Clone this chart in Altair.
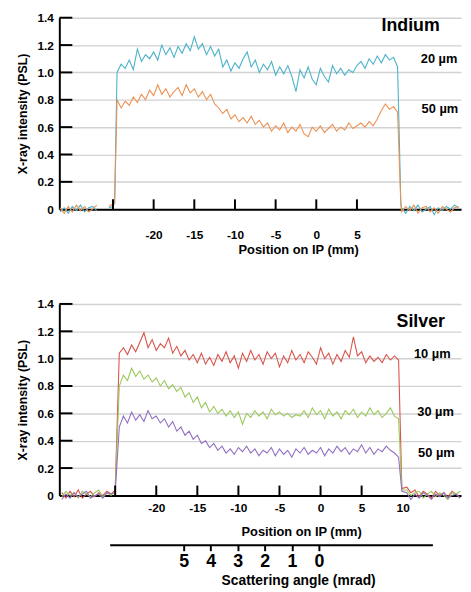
import altair as alt
import pandas as pd

FONT = "Liberation Sans"

# ---------------- data ----------------
SERIES_KEYS = ["In 20", "In 50", "Ag 10", "Ag 30", "Ag 50", "tick"]
SERIES_COLORS = ["#4bb2c9", "#ec9152", "#d9544c", "#9cc95c", "#9170c2", "#000000"]

# Top panel (Indium)
TOP_LEFT_POS = [-31.5, -31.0, -30.5, -30.0, -29.5, -29.0, -28.5, -28.0, -27.5, -27.0, -25.5, -25.0]
TOP_LEFT_SEG = [0, 0, 0, 0, 0, 0, 0, 0, 0, 0, 1, 1]
TOP_RISE_POS = -24.8
TOP_PLAT_POS = [-24.5 + 0.5 * i for i in range(70)]
TOP_FALL_POS = 10.4
TOP_RIGHT_POS = [10.5 + 0.5 * i for i in range(15)]

IN20_PLAT = [1.00, 1.06, 1.03, 1.09, 1.02, 1.17, 1.08, 1.13, 1.10, 1.15,
             1.09, 1.20, 1.13, 1.18, 1.11, 1.19, 1.14, 1.21, 1.16, 1.26,
             1.17, 1.21, 1.13, 1.19, 1.12, 1.17, 1.04, 1.09, 1.01, 1.07,
             1.03, 1.10, 1.15, 1.04, 1.09, 1.00, 1.06, 1.02, 1.08, 0.98,
             1.04, 0.99, 1.05, 0.97, 0.86, 1.02, 0.96, 1.04, 0.95, 0.91,
             1.03, 0.97, 0.93, 1.05, 0.99, 1.03, 0.98, 1.02, 1.00, 1.05,
             1.08, 1.03, 1.10, 1.06, 1.12, 1.07, 1.13, 1.09, 1.11, 1.04]
IN50_PLAT = [0.80, 0.74, 0.79, 0.76, 0.82, 0.78, 0.84, 0.80, 0.87, 0.83,
             0.91, 0.84, 0.88, 0.82, 0.86, 0.89, 0.83, 0.91, 0.85, 0.88,
             0.82, 0.86, 0.80, 0.84, 0.77, 0.74, 0.70, 0.73, 0.66, 0.69,
             0.64, 0.67, 0.63, 0.68, 0.62, 0.65, 0.60, 0.63, 0.57, 0.61,
             0.58, 0.63, 0.56, 0.60, 0.57, 0.62, 0.55, 0.53, 0.60, 0.57,
             0.61, 0.56, 0.59, 0.62, 0.57, 0.60, 0.58, 0.63, 0.59, 0.61,
             0.63, 0.60, 0.64, 0.61, 0.66, 0.72, 0.77, 0.73, 0.75, 0.71]
IN20_BASE_L = [-0.02, 0.01, -0.03, 0.02, -0.01, 0.03, -0.02, 0.01, 0.02, -0.01, 0.01, 0.02]
IN20_BASE_R = [0.01, -0.03, 0.02, -0.01, 0.03, -0.02, 0.00, 0.02, -0.04, 0.01, -0.01, 0.02, 0.00, 0.03, 0.01]
IN50_BASE_L = [0.01, -0.03, 0.02, -0.02, 0.03, -0.01, 0.02, -0.02, 0.00, 0.03, 0.02, 0.04]
IN50_BASE_R = [-0.02, 0.02, -0.01, 0.03, -0.03, 0.01, 0.02, -0.02, 0.01, -0.03, 0.02, 0.00, -0.02, 0.01, 0.02]
IN_RISE = [0.05, 0.04]
IN_FALL = [0.04, 0.03]

# Bottom panel (Silver)
BOT_LEFT_POS = [-31.5 + 0.5 * i for i in range(13)]
BOT_RISE_POS = -25.0
BOT_PLAT_POS = [-24.5 + 0.5 * i for i in range(69)]
BOT_FALL_POS = 9.9
BOT_RIGHT_POS = [10.5 + 0.5 * i for i in range(14)]

AG10_PLAT = [1.04, 1.08, 1.03, 1.10, 1.05, 1.12, 1.19, 1.08, 1.14, 1.06,
             1.11, 1.08, 1.15, 1.04, 1.09, 1.02, 1.06, 0.99, 1.03, 0.97,
             1.04, 0.96, 1.01, 0.95, 1.03, 0.98, 1.05, 0.97, 1.02, 0.93,
             1.04, 0.98, 1.06, 0.99, 1.03, 0.96, 1.05, 1.00, 1.04, 0.94,
             1.02, 0.97, 1.06, 0.99, 1.03, 0.97, 1.05, 1.01, 0.96, 1.08,
             1.00, 1.04, 0.96, 1.03, 0.98, 1.06, 1.01, 1.16, 1.02, 1.05,
             0.97, 1.02, 0.98, 1.01, 0.97, 1.03, 0.99, 1.02, 0.99]
AG30_PLAT = [0.80, 0.88, 0.84, 0.93, 0.87, 0.91, 0.85, 0.88, 0.83, 0.86,
             0.80, 0.84, 0.78, 0.81, 0.76, 0.79, 0.72, 0.75, 0.68, 0.72,
             0.64, 0.68, 0.61, 0.65, 0.60, 0.63, 0.58, 0.62, 0.57, 0.61,
             0.52, 0.60, 0.57, 0.62, 0.58, 0.61, 0.56, 0.63, 0.59, 0.61,
             0.58, 0.60, 0.57, 0.59, 0.58, 0.62, 0.57, 0.64, 0.59, 0.62,
             0.56, 0.63, 0.58, 0.61, 0.56, 0.62, 0.59, 0.63, 0.57, 0.61,
             0.58, 0.64, 0.59, 0.62, 0.57, 0.60, 0.64, 0.58, 0.56]
AG50_PLAT = [0.50, 0.58, 0.53, 0.61, 0.55, 0.59, 0.54, 0.62, 0.56, 0.58,
             0.53, 0.56, 0.50, 0.54, 0.47, 0.50, 0.44, 0.47, 0.41, 0.44,
             0.38, 0.40, 0.35, 0.38, 0.33, 0.36, 0.31, 0.34, 0.30, 0.35,
             0.32, 0.36, 0.31, 0.34, 0.29, 0.33, 0.31, 0.35, 0.29, 0.34,
             0.30, 0.33, 0.28, 0.34, 0.31, 0.35, 0.30, 0.33, 0.31, 0.35,
             0.29, 0.34, 0.31, 0.36, 0.32, 0.35, 0.30, 0.34, 0.32, 0.37,
             0.31, 0.35, 0.30, 0.34, 0.32, 0.36, 0.33, 0.31, 0.28]
AG10_BASE_L = [0.02, -0.02, 0.03, -0.01, 0.04, -0.02, 0.01, 0.03, -0.01, 0.02, 0.00, 0.03, 0.01]
AG10_BASE_R = [0.06, 0.02, 0.04, -0.01, 0.03, 0.01, -0.02, 0.03, 0.00, 0.02, -0.01, 0.03, 0.01, -0.02]
AG30_BASE_L = [-0.01, 0.03, 0.00, 0.02, -0.02, 0.03, 0.01, -0.01, 0.02, 0.04, -0.01, 0.02, 0.00]
AG30_BASE_R = [0.04, 0.00, 0.02, 0.03, -0.02, 0.01, 0.03, -0.01, 0.02, 0.00, -0.03, 0.02, 0.01, 0.03]
AG50_BASE_L = [-0.03, 0.01, -0.02, 0.02, -0.01, 0.01, 0.03, -0.02, 0.00, 0.01, -0.02, 0.02, 0.01]
AG50_BASE_R = [0.02, -0.03, 0.01, -0.02, 0.02, 0.00, -0.03, 0.01, -0.01, 0.02, -0.02, 0.00, 0.01, -0.02]
AG_RISE = [0.04, 0.03, 0.02]
AG_FALL = [0.05, 0.04, 0.03]

# Annotations
TOP_LABELS = ["Indium", "20 µm", "50 µm"]
TOP_LABEL_X = [11.6, 15.1, 15.2]
TOP_LABEL_Y = [1.34, 1.10, 0.73]
TOP_LABEL_SIZE = [18, 13, 13]
BOT_LABELS = ["Silver", "10 µm", "30 µm", "50 µm"]
BOT_LABEL_X = [12.2, 13.6, 14.0, 14.1]
BOT_LABEL_Y = [1.27, 1.03, 0.61, 0.31]
BOT_LABEL_SIZE = [18, 13, 13, 13]

YDOM = [0, 1.4]
TOP_XDOM = [-31.6, 17.8]
BOT_XDOM = [-31.8, 17.1]
Y_TICKS = [0, 0.2, 0.4, 0.6, 0.8, 1.0, 1.2, 1.4]
TOP_X_LABELS = [-20, -15, -10, -5, 0, 5]
BOT_X_LABELS = [-20, -15, -10, -5, 0, 5, 10]
X_TICKS = [-25, -20, -15, -10, -5, 0, 5]
X_TICK_LEN = 0.072   # inward tick length, intensity units
Y_TICK_LEN = 1.6     # inward tick length, mm
ANGLE_TICKS = [0, 1, 2, 3, 4, 5]
ANGLE_DOM = [-4.2, 7.74]

TRACE_W = 1.1
TICK_W = 2.0


def build_rows(name, left_pos, left_seg, left_vals, rise_pos, rise_val,
               plat_pos, plat_vals, fall_pos, fall_val, right_pos, right_vals):
    rows = []
    last_seg = left_seg[-1]
    for p, s, v in zip(left_pos, left_seg, left_vals):
        rows.append((p, v, name, f"{name}-{s}", TRACE_W))
    rows.append((rise_pos, rise_val, name, f"{name}-{last_seg}", TRACE_W))
    for p, v in zip(plat_pos, plat_vals):
        rows.append((p, v, name, f"{name}-{last_seg}", TRACE_W))
    rows.append((fall_pos, fall_val, name, f"{name}-{last_seg}", TRACE_W))
    for p, v in zip(right_pos, right_vals):
        rows.append((p, v, name, f"{name}-{last_seg}", TRACE_W))
    return rows


def tick_rows(xdom):
    rows = []
    for t in X_TICKS:
        rows.append((t, YDOM[0], "tick", f"xt{t}", TICK_W))
        rows.append((t, YDOM[0] + X_TICK_LEN, "tick", f"xt{t}", TICK_W))
    for v in Y_TICKS[1:]:
        rows.append((xdom[0], v, "tick", f"yt{v}", TICK_W))
        rows.append((xdom[0] + Y_TICK_LEN, v, "tick", f"yt{v}", TICK_W))
    return rows


def to_df(rows):
    df = pd.DataFrame(rows, columns=["pos", "val", "series", "seg", "sw"])
    df["idx"] = range(len(df))
    return df


top_df = to_df(
    build_rows("In 20", TOP_LEFT_POS, TOP_LEFT_SEG, IN20_BASE_L, TOP_RISE_POS, IN_RISE[0],
               TOP_PLAT_POS, IN20_PLAT, TOP_FALL_POS, IN_FALL[0], TOP_RIGHT_POS, IN20_BASE_R)
    + build_rows("In 50", TOP_LEFT_POS, TOP_LEFT_SEG, IN50_BASE_L, TOP_RISE_POS, IN_RISE[1],
                 TOP_PLAT_POS, IN50_PLAT, TOP_FALL_POS, IN_FALL[1], TOP_RIGHT_POS, IN50_BASE_R)
    + tick_rows(TOP_XDOM)
)

bot_seg = [0] * len(BOT_LEFT_POS)
bot_df = to_df(
    build_rows("Ag 10", BOT_LEFT_POS, bot_seg, AG10_BASE_L, BOT_RISE_POS, AG_RISE[0],
               BOT_PLAT_POS, AG10_PLAT, BOT_FALL_POS, AG_FALL[0], BOT_RIGHT_POS, AG10_BASE_R)
    + build_rows("Ag 30", BOT_LEFT_POS, bot_seg, AG30_BASE_L, BOT_RISE_POS, AG_RISE[1],
                 BOT_PLAT_POS, AG30_PLAT, BOT_FALL_POS, AG_FALL[1], BOT_RIGHT_POS, AG30_BASE_R)
    + build_rows("Ag 50", BOT_LEFT_POS, bot_seg, AG50_BASE_L, BOT_RISE_POS, AG_RISE[2],
                 BOT_PLAT_POS, AG50_PLAT, BOT_FALL_POS, AG_FALL[2], BOT_RIGHT_POS, AG50_BASE_R)
    + tick_rows(BOT_XDOM)
)

top_lab = pd.DataFrame({"ly": TOP_LABEL_Y, "lx": TOP_LABEL_X, "label": TOP_LABELS, "fs": TOP_LABEL_SIZE})
bot_lab = pd.DataFrame({"ly": BOT_LABEL_Y, "lx": BOT_LABEL_X, "label": BOT_LABELS, "fs": BOT_LABEL_SIZE})
angle_df = pd.DataFrame({"angle": ANGLE_TICKS, "ay": [0.7] * len(ANGLE_TICKS)})

W, H = 407, 194
YSCALE = alt.Scale(domain=YDOM, nice=False, zero=False)
COLOR = alt.Color("series:N", scale=alt.Scale(domain=SERIES_KEYS, range=SERIES_COLORS), legend=None)


def panel_layers(df, lab, xdom, xlabels, label_pad, title_pad, title_x):
    xscale = alt.Scale(domain=xdom, nice=False, zero=False)
    lines = alt.Chart(df).mark_line(clip=False).encode(
        x=alt.X("pos:Q", scale=xscale,
                axis=alt.Axis(orient="bottom", values=xlabels, ticks=False, grid=False,
                              domainColor="black", domainWidth=2,
                              labelPadding=label_pad, labelFontSize=12, labelFontWeight="bold",
                              labelExpr="'' + datum.value",
                              title="Position on IP (mm)", titleFontSize=13, titleFontWeight="bold",
                              titlePadding=title_pad, titleX=title_x)),
        y=alt.Y("val:Q", scale=YSCALE,
                axis=alt.Axis(orient="left", values=Y_TICKS, ticks=False,
                              domainColor="black", domainWidth=2,
                              labelPadding=6, labelFontSize=12, labelFontWeight="bold",
                              format=".1f",
                              labelExpr="datum.value == 0 ? '0' : datum.label",
                              grid=True, gridColor="#d2d2d2", gridWidth=1.4,
                              title="X-ray intensity (PSL)", titleFontSize=12.5,
                              titleFontWeight="bold", titlePadding=8)),
        color=COLOR,
        strokeWidth=alt.StrokeWidth("sw:Q", scale=None),
        detail="seg:N",
        order="idx:Q",
    )
    text = alt.Chart(lab).mark_text(font=FONT, fontWeight="bold", color="black",
                                    align="center", baseline="middle").encode(
        x=alt.X("lx:Q", scale=xscale, axis=None),
        y=alt.Y("ly:Q", scale=YSCALE, axis=None),
        text="label:N",
        size=alt.Size("fs:Q", scale=None),
    )
    return [lines, text]


top = alt.layer(*panel_layers(top_df, top_lab, TOP_XDOM, TOP_X_LABELS, 21, 3, 242)).resolve_scale(
    x="independent", y="independent").properties(width=W, height=H)

b_layers = panel_layers(bot_df, bot_lab, BOT_XDOM, BOT_X_LABELS, 7, 13, 245)

ASCALE = alt.Scale(domain=ANGLE_DOM, range=[378, 51], nice=False, zero=False)
angle_axis = alt.Chart(angle_df).mark_point(opacity=0).encode(
    x=alt.X("angle:Q", scale=ASCALE,
            axis=alt.Axis(orient="bottom", offset=50, values=ANGLE_TICKS, grid=False,
                          ticks=True, tickSize=6, tickWidth=2, tickColor="black",
                          domainColor="black", domainWidth=2,
                          labelFontSize=18, labelFontWeight="bold", labelPadding=2,
                          labelExpr="'' + datum.value",
                          title="Scattering angle (mrad)", titleFontSize=14, titleFontWeight="bold",
                          titlePadding=3, titleX=242)),
    y=alt.Y("ay:Q", scale=YSCALE, axis=None),
)

bottom = alt.layer(*b_layers, angle_axis).resolve_scale(
    x="independent", y="independent"
).properties(width=W, height=H)

chart = alt.vconcat(top, bottom, spacing=42).properties(
    padding={"left": 8, "top": 0, "right": 0, "bottom": 0}
).configure_view(stroke=None).configure_axis(
    labelFont=FONT, titleFont=FONT, labelColor="black", titleColor="black"
)

chart.save("out.html", embed_options={"renderer": "svg", "actions": False})
